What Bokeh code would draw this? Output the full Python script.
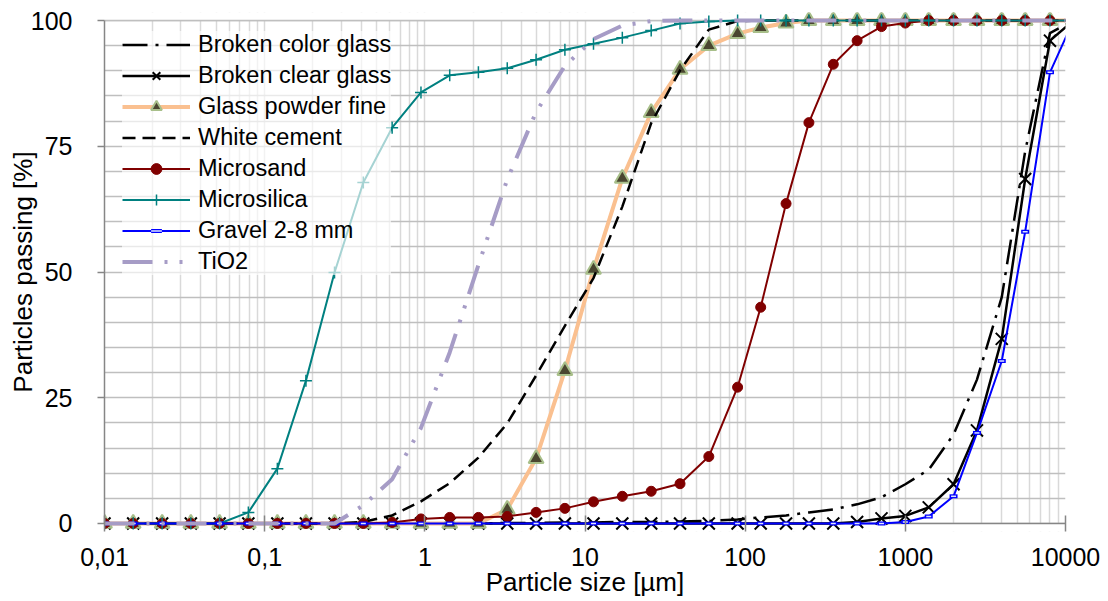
from bokeh.plotting import figure
from bokeh.models import (Range1d, FixedTicker, CustomJSTickFormatter, Legend,
                          LegendItem, BoxAnnotation, Grid)
from bokeh.embed import file_html
from bokeh.resources import INLINE

# ---- data ----
x_size = [0.01, 0.0151, 0.0229, 0.0346, 0.0523, 0.0791, 0.120, 0.181, 0.273,
          0.413, 0.625, 0.946, 1.43, 2.16, 3.27, 4.95, 7.49, 11.3, 17.1, 25.9,
          39.2, 59.3, 89.7, 125, 180, 250, 355, 500, 710, 1000, 1400, 2000,
          2800, 4000, 5600, 8000, 11200]

broken_color_glass = [0]*14 + [0.1, 0.1, 0.2, 0.2, 0.3, 0.3, 0.4, 0.5, 0.8, 1.2,
                               1.6, 2.2, 2.8, 3.8, 5.2, 7.8, 10.7, 17.7, 28.6,
                               45.0, 74.0, 97.5, 100]
broken_clear_glass = [0]*27 + [0.3, 1.0, 1.5, 3.2, 7.8, 18.5, 36.7, 68.5, 96.0, 100]
glass_powder_fine = [0]*14 + [2.8, 12.9, 30.4, 50.5, 68.6, 81.7, 90.3, 95.0, 97.4,
                              98.6, 99.5] + [100]*12
white_cement = [0]*9 + [0.3, 1.6, 4.4, 8.0, 13.1, 19.9, 29.4, 39.3, 48.8, 63.0,
                        79.6, 90.1, 98.2, 99.9] + [100]*14
microsand = [0]*10 + [0.2, 0.9, 1.2, 1.2, 1.4, 2.2, 3.0, 4.3, 5.4, 6.4, 7.9, 13.3,
                      27.1, 43.0, 63.6, 79.7, 91.3, 96.0, 98.8, 99.5] + [100]*7
microsilica = [0]*5 + [2.2, 10.9, 28.4, 49.9, 67.8, 78.7, 85.7, 89.1, 89.7, 90.5,
                       92.2, 94.2, 95.4, 96.6, 98.0, 99.4, 99.8] + [100]*15
gravel = [0]*29 + [0.3, 1.4, 5.4, 18.0, 32.3, 58.0, 89.7, 100]
tio2 = [0]*9 + [3.6, 8.8, 19.0, 34.0, 51.4, 68.4, 81.8, 91.0, 96.3, 99.0, 99.9] + [100]*17

x_ticks = [0.01, 0.1, 1, 10, 100, 1000, 10000]
y_ticks = [0, 25, 50, 75, 100]

FONT = "Liberation Sans"

p = figure(x_axis_type="log", x_range=Range1d(0.01, 10000), y_range=Range1d(-1.6, 101.6),
           frame_width=961, frame_height=519, output_backend="svg", toolbar_location=None,
           min_border_left=104, min_border_right=35, min_border_top=12, min_border_bottom=60)
p.outline_line_color = None
p.background_fill_color = "white"
p.border_fill_color = "white"

# grids
grid_x = [m * 10.0 ** e for e in range(-2, 4) for m in range(1, 10)] + [10000]
p.xgrid.ticker = FixedTicker(ticks=grid_x)
p.xgrid.bounds = (0.005, 20000)
p.xgrid.grid_line_color = "#D9D9D9"
p.xgrid.grid_line_width = 1.5
p.ygrid.ticker = FixedTicker(ticks=list(range(0, 101, 5)))
p.ygrid.grid_line_color = "#BFBFBF"
p.ygrid.grid_line_width = 1.5

# white margins outside the 0..100 band, so that markers at 0 and 100 are not cut
p.add_layout(BoxAnnotation(top=0, fill_color="white", fill_alpha=1, line_color=None, level="underlay"))
p.add_layout(BoxAnnotation(bottom=100, fill_color="white", fill_alpha=1, line_color=None, level="underlay"))
p.add_layout(Grid(dimension=1, ticker=FixedTicker(ticks=[100]), grid_line_color="#BFBFBF",
                  grid_line_width=1.5))
p.add_layout(Grid(dimension=1, ticker=FixedTicker(ticks=[0]), grid_line_color="#868686",
                  grid_line_width=1.5))

# axes
xa = p.xaxis[0]
xa.ticker = FixedTicker(ticks=x_ticks)
xa.formatter = CustomJSTickFormatter(code="return tick.toString().replace('.', ',');")
xa.axis_label = "Particle size [µm]"
ya = p.yaxis[0]
ya.ticker = FixedTicker(ticks=y_ticks)
ya.bounds = (0, 100)
ya.axis_label = "Particles passing [%]"
for ax in (xa, ya):
    ax.axis_line_color = "#868686"
    ax.axis_line_width = 1.5
    ax.major_tick_line_color = "#868686"
    ax.major_tick_line_width = 1.5
    ax.minor_tick_line_color = None
    ax.major_label_text_font = FONT
    ax.major_label_text_font_size = "25px"
    ax.major_label_text_color = "black"
    ax.axis_label_text_font = FONT
    ax.axis_label_text_font_size = "26px"
    ax.axis_label_text_font_style = "normal"
    ax.axis_label_text_color = "black"
xa.axis_line_color = None
xa.major_tick_in = 16
xa.major_tick_out = 0
xa.major_label_standoff = 16
xa.axis_label_standoff = -2
ya.major_tick_in = 0
ya.major_tick_out = 7
ya.major_label_standoff = 25
ya.axis_label_standoff = -10

# series
r1 = p.line(x_size, broken_color_glass, line_color="black", line_width=2.5, line_dash="25 8 3 8")
r2 = p.line(x_size, broken_clear_glass, line_color="black", line_width=2.5)
m2 = p.scatter(x_size, broken_clear_glass, marker="x", size=17, line_color="black", line_width=2)
r3 = p.line(x_size, glass_powder_fine, line_color="#FAC090", line_width=4)
m3 = p.scatter(x_size, glass_powder_fine, marker="triangle", size=15, fill_color="#4A4630",
               line_color="#A8BF8A", line_width=2)
r4 = p.line(x_size, white_cement, line_color="black", line_width=2.5, line_dash="13 7")
r5 = p.line(x_size, microsand, line_color="#800000", line_width=2)
m5 = p.scatter(x_size, microsand, marker="circle", size=10, fill_color="#800000", line_color="#800000")
r6 = p.line(x_size, microsilica, line_color="#008080", line_width=2)
m6 = p.scatter(x_size, microsilica, marker="cross", size=12, line_color="#008080", line_width=1.5)
r7 = p.line(x_size, gravel, line_color="#0000FF", line_width=2)
m7 = p.scatter(x_size, gravel, marker="dash", size=8, line_color="#0000FF", line_width=4)
m7b = p.scatter(x_size, gravel, marker="dash", size=5, line_color="#DDE4FF", line_width=1.5)
r8 = p.line(x_size, tio2, line_color="#A69CC6", line_width=4, line_dash="30 12 3 12 3 12")

legend = Legend(items=[
    LegendItem(label="Broken color glass", renderers=[r1]),
    LegendItem(label="Broken clear glass", renderers=[r2, m2]),
    LegendItem(label="Glass powder fine", renderers=[r3, m3]),
    LegendItem(label="White cement", renderers=[r4]),
    LegendItem(label="Microsand", renderers=[r5, m5]),
    LegendItem(label="Microsilica", renderers=[r6, m6]),
    LegendItem(label="Gravel 2-8 mm", renderers=[r7, m7, m7b]),
    LegendItem(label="TiO2", renderers=[r8]),
], location=(18, 256))
legend.margin = 0
legend.padding = 6
legend.spacing = 4
legend.glyph_width = 68
legend.glyph_height = 27
legend.label_height = 27
legend.label_standoff = 8
legend.label_text_font = FONT
legend.label_text_font_size = "23.5px"
legend.label_text_color = "black"
legend.background_fill_color = "white"
legend.background_fill_alpha = 0.65
legend.border_line_color = None
p.add_layout(legend)

open("out.html", "w").write(file_html(p, INLINE))
